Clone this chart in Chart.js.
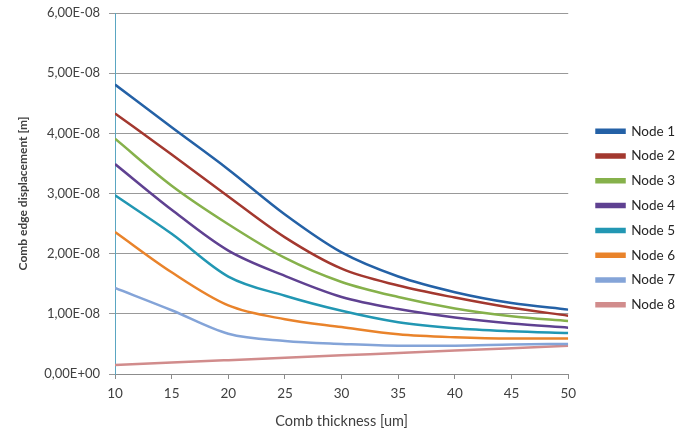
<!DOCTYPE html>
<html>
<head>
<meta charset="utf-8">
<script src="https://cdn.jsdelivr.net/npm/chart.js@4.4.0/dist/chart.umd.min.js"></script>
<style>
  html, body { margin: 0; padding: 0; background: #ffffff; }
  #wrap { width: 684px; height: 436px; }
</style>
</head>
<body>
<div id="wrap"><canvas id="c" width="684" height="436"></canvas></div>
<script>
const thickness = [10, 15, 20, 25, 30, 35, 40, 45, 50];
const seriesNames = ["Node 1", "Node 2", "Node 3", "Node 4", "Node 5", "Node 6", "Node 7", "Node 8"];
// values in units of 1E-08 m
const node1 = [4.81, 4.10, 3.40, 2.65, 2.02, 1.62, 1.36, 1.18, 1.07];
const node2 = [4.33, 3.65, 2.95, 2.27, 1.75, 1.47, 1.27, 1.10, 0.97];
const node3 = [3.91, 3.13, 2.49, 1.93, 1.53, 1.28, 1.09, 0.96, 0.88];
const node4 = [3.49, 2.73, 2.05, 1.63, 1.28, 1.08, 0.94, 0.84, 0.77];
const node5 = [2.97, 2.33, 1.62, 1.30, 1.05, 0.86, 0.76, 0.71, 0.68];
const node6 = [2.36, 1.69, 1.14, 0.91, 0.78, 0.66, 0.61, 0.59, 0.59];
const node7 = [1.43, 1.06, 0.67, 0.55, 0.50, 0.47, 0.47, 0.49, 0.50];
const node8 = [0.15, 0.19, 0.23, 0.27, 0.31, 0.35, 0.39, 0.43, 0.47];
const yTicks = [0, 1e-8, 2e-8, 3e-8, 4e-8, 5e-8, 6e-8];
const colors = ["#2461A6", "#A3382F", "#86B14B", "#5F4191", "#2297B3", "#E9832B", "#84A4D8", "#D18C8C"];

const allSeries = [node1, node2, node3, node4, node5, node6, node7, node8];

function fmtSci(v) {
  if (Math.abs(v) < 1e-20) return "0,00E+00";
  const s = v.toExponential(2);
  const [m, e] = s.split("e");
  const en = parseInt(e, 10);
  const sign = en < 0 ? "-" : "+";
  const ea = String(Math.abs(en)).padStart(2, "0");
  return m.replace(".", ",") + "E" + sign + ea;
}

const datasets = allSeries.map((arr, i) => ({
  label: seriesNames[i],
  data: arr.map((v, j) => ({ x: thickness[j], y: v * 1e-8 })),
  borderColor: colors[i],
  backgroundColor: colors[i],
  borderWidth: 2.5,
  pointRadius: 0,
  cubicInterpolationMode: "monotone",
  fill: false
}));

const font = "Lato, 'Open Sans', sans-serif";
const LEGEND_SHIFT_X = 17;
const LEGEND_SHIFT_Y = -6.5;

const legendShift = {
  id: "legendShift",
  afterLayout(chart) {
    const lg = chart.legend;
    if (lg) {
      lg.left += LEGEND_SHIFT_X; lg.right += LEGEND_SHIFT_X;
      lg.top += LEGEND_SHIFT_Y; lg.bottom += LEGEND_SHIFT_Y;
    }
  }
};

new Chart(document.getElementById("c"), {
  type: "line",
  data: { datasets },
  plugins: [legendShift],
  options: {
    responsive: false,
    animation: false,
    layout: { padding: { left: 0, right: 16, top: 13, bottom: 0 } },
    plugins: {
      legend: {
        position: "right",
        align: "center",
        labels: {
          boxWidth: 28,
          boxHeight: 3,
          padding: 11.3,
          color: "#262626",
          font: { family: font, size: 13.5 }
        }
      },
      tooltip: { enabled: false }
    },
    scales: {
      x: {
        type: "linear",
        min: 10,
        max: 50,
        afterFit: (s) => { s.height = 62; },
        ticks: {
          stepSize: 5,
          color: "#404040",
          font: { family: font, size: 13.5 },
          padding: 7
        },
        grid: {
          drawOnChartArea: false,
          drawTicks: true,
          tickLength: 5,
          color: "#8c8c8c"
        },
        border: { color: "#8c8c8c", width: 1 },
        title: {
          display: true,
          text: "Comb thickness [um]",
          color: "#404040",
          font: { family: font, size: 14.5 },
          padding: { top: 8, bottom: 6.3 }
        }
      },
      y: {
        min: 0,
        max: 6e-8,
        afterFit: (s) => { s.width = 115; s.paddingTop = 0; s.paddingBottom = 0; },
        afterBuildTicks: (axis) => { axis.ticks = yTicks.map(v => ({ value: v })); },
        ticks: {
          color: "#404040",
          font: { family: font, size: 13 },
          padding: 9,
          callback: (v) => fmtSci(v)
        },
        grid: {
          color: "#999999",
          lineWidth: 1,
          drawTicks: true,
          tickLength: 6
        },
        border: { color: "#5aa6c2", width: 1 },
        title: {
          display: true,
          text: "Comb edge displacement [m]",
          color: "#404040",
          font: { family: font, size: 12, weight: "bold" },
          padding: { top: 15.5, bottom: 8 }
        }
      }
    }
  }
});
</script>
</body>
</html>
